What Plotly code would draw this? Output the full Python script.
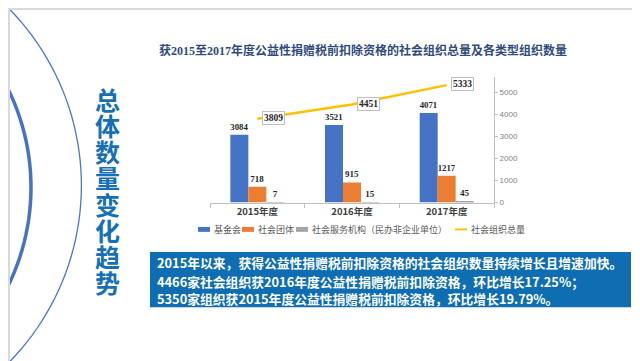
import math
import plotly.graph_objects as go

# ---------------- data ----------------
categories = ["2015年度", "2016年度", "2017年度"]
foundation = [3084, 3521, 4071]          # 基金会
social_group = [718, 915, 1217]          # 社会团体
service_org = [7, 15, 45]                # 社会服务机构（民办非企业单位）
total_orgs = [3809, 4451, 5333]          # 社会组织总量
series_names = ["基金会", "社会团体", "社会服务机构（民办非企业单位）", "社会组织总量"]
y_ticks = [0, 1000, 2000, 3000, 4000, 5000]

chart_title = "获2015至2017年度公益性捐赠税前扣除资格的社会组织总量及各类型组织数量"
side_title = "总体数量变化趋势"
box_lines = [
    "2015年以来，获得公益性捐赠税前扣除资格的社会组织数量持续增长且增速加快。",
    "4466家社会组织获2016年度公益性捐赠税前扣除资格，环比增长17.25%；",
    "5350家组织获2015年度公益性捐赠税前扣除资格，环比增长19.79%。",
]

# ---------------- style ----------------
W, H = 640, 361
colors = ["#4472C4", "#ED7D31", "#A5A5A5", "#FFC000"]
CJK = "Noto Sans CJK SC"
SERIF = "Liberation Serif, Noto Sans CJK SC"


def px(x):
    return x / W


def py(y):
    return 1 - y / H


fig = go.Figure()

bar_series = [foundation, social_group, service_org]
for name, vals, col in zip(series_names[:3], bar_series, colors[:3]):
    fig.add_trace(go.Bar(
        x=categories, y=vals, name=name, marker=dict(color=col, line=dict(width=0)),
        text=[str(v) for v in vals], textposition="outside",
        textfont=dict(family=SERIF, size=9, color="#262626", weight="bold"),
        cliponaxis=False, showlegend=False,
    ))

fig.add_trace(go.Scatter(
    x=categories, y=total_orgs, name=series_names[3], mode="lines",
    line=dict(color=colors[3], width=2.5), showlegend=False, cliponaxis=False,
))

annotations = []
# boxed data labels for the total line
for c, v in zip(categories, total_orgs):
    annotations.append(dict(
        x=c, y=v, xref="x", yref="y", text=str(v), showarrow=False,
        xshift=16, yshift=1,
        font=dict(family=SERIF, size=9.5, color="#262626", weight="bold"),
        bgcolor="white", bordercolor="#BFBFBF", borderwidth=1, borderpad=1,
    ))

# chart title
annotations.append(dict(
    x=px(355), y=py(43.5), xref="paper", yref="paper", text=chart_title,
    showarrow=False, xanchor="center", yanchor="middle",
    font=dict(family=SERIF, size=12, color="#2F4B7C", weight="bold"),
))

# vertical side title, one character per line
for i, ch in enumerate(side_title):
    annotations.append(dict(
        x=px(99), y=py(92 + i * 26.6), xref="paper", yref="paper", text=ch,
        showarrow=False, xanchor="center", yanchor="middle",
        font=dict(family=CJK, size=25, color="#1570B6", weight="bold"),
    ))

# text box lines
for line, yy in zip(box_lines, [258.5, 277, 294.5]):
    annotations.append(dict(
        x=px(147), y=py(yy), xref="paper", yref="paper", text=line,
        showarrow=False, xanchor="left", yanchor="middle",
        font=dict(family=CJK, size=12.8, color="white", weight="bold"),
    ))

# manual legend
legend_sym_x = [190, 234, 288, 447]
legend_y = 224.5
shapes = []
for i, (name, col, sx) in enumerate(zip(series_names, colors, legend_sym_x)):
    if i < 3:
        shapes.append(dict(type="rect", xref="paper", yref="paper",
                           x0=px(sx), x1=px(sx + 12), y0=py(legend_y + 2.5), y1=py(legend_y - 2.5),
                           fillcolor=col, line=dict(width=0)))
    else:
        shapes.append(dict(type="line", xref="paper", yref="paper",
                           x0=px(sx), x1=px(sx + 12), y0=py(legend_y), y1=py(legend_y),
                           line=dict(color=col, width=2)))
    annotations.append(dict(
        x=px(sx + 13.5), y=py(legend_y), xref="paper", yref="paper", text=name,
        showarrow=False, xanchor="left", yanchor="middle",
        font=dict(family=CJK, size=9, color="#595959"),
    ))


# decorative arcs on the left (polyline paths in paper coordinates)
def arc_path(cx, cy, r, n=90):
    pts = []
    for k in range(n + 1):
        a = -math.pi / 2 + math.pi * k / n
        x = cx + r * math.cos(a)
        y = cy + r * math.sin(a)
        pts.append((px(x), py(y)))
    return "M " + " L ".join(f"{x:.5f},{y:.5f}" for x, y in pts)


shapes.append(dict(type="path", xref="paper", yref="paper", path=arc_path(-185, 180, 258.4),
                   line=dict(color="#4A77CC", width=1.3), layer="below"))
shapes.append(dict(type="path", xref="paper", yref="paper", path=arc_path(-206, 182, 229),
                   line=dict(color="#4472C4", width=3.5), layer="below"))

# blue text box
shapes.append(dict(type="rect", xref="paper", yref="paper",
                   x0=px(142), x1=px(623), y0=py(303.5), y1=py(247.5),
                   fillcolor="#0F6EB2", line=dict(width=0), layer="below"))

# slide border
shapes.append(dict(type="rect", xref="paper", yref="paper", x0=0, x1=1, y0=0, y1=1,
                   line=dict(color="#D9D9D9", width=4), fillcolor="rgba(0,0,0,0)"))

fig.update_layout(
    width=W, height=H,
    margin=dict(l=0, r=0, t=0, b=0),
    paper_bgcolor="white", plot_bgcolor="white",
    barmode="group", bargap=0.43, bargroupgap=0,
    showlegend=False,
    annotations=annotations, shapes=shapes,
    xaxis=dict(
        domain=[px(202), px(486)], type="category",
        showline=True, linecolor="#BFBFBF", linewidth=1,
        ticks="outside", tickson="boundaries", ticklen=4, tickcolor="#BFBFBF",
        tickfont=dict(family=CJK, size=9.5, color="#404040", weight="bold"),
        showgrid=False, zeroline=False,
    ),
    yaxis=dict(
        domain=[py(197.3), py(70)], range=[0, 5700], side="right",
        tickvals=y_ticks, ticktext=[str(t) for t in y_ticks],
        showline=True, linecolor="#BFBFBF", linewidth=1,
        ticks="outside", ticklen=3, tickcolor="#BFBFBF",
        tickfont=dict(family="Liberation Sans, Noto Sans", size=8, color="#7F7F7F"),
        showgrid=False, zeroline=False,
    ),
)

fig.write_html("out.html")
